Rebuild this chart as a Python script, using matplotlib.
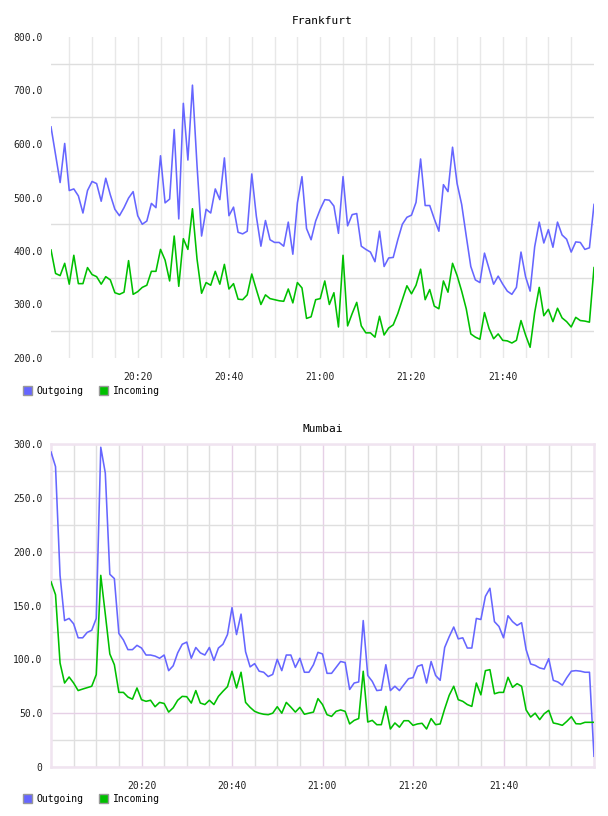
import numpy as np
import matplotlib
matplotlib.use('Agg')
import matplotlib.pyplot as plt
from matplotlib.patches import Patch
from matplotlib.ticker import FixedLocator, FuncFormatter

plt.rcParams['font.family'] = ['DejaVu Sans Mono']

# minutes after 20:00
fra_min = np.arange(1, 121)
mum_min = np.arange(0, 121)

fra_out = [632, 580, 528, 601, 513, 516, 503, 471, 513, 530,
           526, 493, 536, 505, 478, 466, 481, 499, 511, 466,
           450, 456, 489, 481, 578, 490, 497, 627, 460, 676,
           570, 710, 560, 428, 478, 471, 516, 496, 574, 466,
           482, 435, 432, 437, 544, 465, 409, 457, 421, 416,
           416, 409, 454, 394, 490, 539, 442, 421, 456, 478,
           496, 495, 484, 433, 539, 447, 468, 470, 409, 403,
           398, 380, 437, 371, 387, 388, 421, 450, 463, 467,
           491, 572, 485, 485, 460, 437, 524, 511, 594, 526,
           487, 428, 371, 346, 341, 396, 367, 338, 353, 338,
           325, 319, 332, 398, 352, 325, 408, 454, 415, 440,
           407, 454, 430, 422, 398, 417, 416, 403, 406, 487]
fra_in = [402, 358, 354, 377, 338, 392, 339, 339, 369, 356,
          352, 338, 352, 346, 322, 319, 323, 382, 319, 324,
          332, 336, 362, 362, 403, 383, 344, 428, 334, 423,
          403, 479, 385, 321, 341, 336, 362, 338, 375, 329,
          339, 310, 309, 318, 357, 328, 300, 318, 311, 309,
          307, 306, 329, 303, 341, 331, 274, 277, 309, 311,
          344, 300, 322, 258, 392, 260, 283, 304, 260, 247,
          247, 239, 278, 243, 256, 262, 283, 309, 335, 320,
          336, 366, 309, 328, 297, 292, 344, 323, 377, 354,
          325, 292, 245, 239, 235, 285, 255, 236, 245, 233,
          232, 228, 233, 270, 243, 220, 285, 332, 279, 291,
          268, 293, 275, 268, 258, 276, 270, 269, 267, 369]

mum_out = [292.6, 279, 178, 136, 138, 133, 120, 120, 125, 127,
           138, 297, 273, 179, 175, 124, 118, 109, 109, 113,
           110.5, 104, 104, 103, 101, 104, 89.5, 94, 106, 114,
           116, 101, 111, 106, 104, 111, 99, 110.5, 114, 123,
           148, 123, 142, 107, 93, 96, 89, 88, 84, 86,
           100, 89.5, 104, 104, 92.5, 101, 88, 88, 95, 106.5,
           105, 87, 87, 92.5, 98, 97, 72, 78, 79, 136,
           85, 79.5, 71, 71.5, 95, 71, 75, 71, 76.5, 82,
           83, 93.5, 95, 78, 98, 85, 80.5, 111, 121, 130,
           119, 120, 110.5, 110.5, 138, 137, 158.5, 166, 135, 130.5,
           120, 140.5, 135, 131.5, 134, 109, 95.7, 94.4, 92, 91,
           100.6, 80.5, 79, 76, 83, 89, 89.5, 89, 88, 88, 10]
mum_in = [172, 160, 96.6, 78, 83.6, 78, 71, 72.4, 73.7, 75,
          85.8, 178, 142, 105, 95, 69.3, 69.3, 65, 63, 73.4,
          62.5, 61, 62, 56, 60, 59, 51, 55, 62, 65.6,
          65.3, 59.4, 71, 59.4, 58, 62, 58, 65.6, 70.3, 74.6,
          88.9, 73.4, 88, 60, 55.4, 51.7, 50, 49, 48.6, 50,
          56, 50, 60, 55.7, 51, 55.4, 49, 50, 51, 63.5,
          58, 48.6, 47, 51.7, 53, 51.7, 40, 43.3, 45, 88.9,
          41.8, 43.3, 39.3, 39.3, 56.3, 35.3, 40.9, 37, 43, 43,
          38.7, 40, 40.6, 35.3, 45, 39.3, 40, 54, 66.6, 75,
          62.5, 61, 58, 56.3, 78, 67, 89.5, 90.4, 68, 69.3,
          69.3, 83.3, 74, 77.4, 75, 53, 46.4, 50, 44, 49.5,
          52.6, 40.9, 40, 38.7, 42.4, 46.7, 40.2, 40, 41.5, 41.5, 41.5]

BLUE = '#6666ff'
GREEN = '#00c000'
W, H = 608, 816


def hhmm(v, pos=None):
    v = int(round(v))
    return '%d:%02d' % (20 + v // 60, v % 60)


def add_legend(ax, top_px):
    handles = [Patch(facecolor=BLUE, edgecolor='#999999', lw=1, label='Outgoing'),
               Patch(facecolor=GREEN, edgecolor='#999999', lw=1, label='Incoming')]
    ax.legend(handles=handles, loc='upper left', ncol=2, frameon=False,
              bbox_to_anchor=(23 / W, 1 - top_px / H), bbox_transform=fig.transFigure,
              borderaxespad=0, borderpad=0, handlelength=0.95, handleheight=1.0,
              handletextpad=0.45, columnspacing=1.6, fontsize=7)


fig = plt.figure(figsize=(W / 100, H / 100), dpi=100)
fra = fig.add_axes([51 / W, 1 - 358 / H, 543 / W, 321 / H])
mum = fig.add_axes([51 / W, 1 - 767 / H, 543 / W, 323 / H])

# ---- Frankfurt
fra.plot(fra_min, fra_out, color=BLUE, lw=1.15, zorder=3)
fra.plot(fra_min, fra_in, color=GREEN, lw=1.15, zorder=3)
fra.set_xlim(1, 120)
fra.set_ylim(200, 800)
fra.xaxis.set_major_locator(FixedLocator([20, 40, 60, 80, 100]))
fra.xaxis.set_minor_locator(FixedLocator(range(5, 120, 5)))
fra.xaxis.set_major_formatter(FuncFormatter(hhmm))
fra.yaxis.set_major_locator(FixedLocator(range(200, 801, 100)))
fra.yaxis.set_minor_locator(FixedLocator(range(250, 800, 100)))
fra.yaxis.set_major_formatter(FuncFormatter(lambda v, p: '%.1f' % v))
fra.grid(False)
fra.grid(axis='x', which='both', color='#e8e8e8', lw=1)
fra.grid(axis='y', which='minor', color='#dedede', lw=1)
for s in fra.spines.values():
    s.set_visible(False)
fra.set_title('Frankfurt', fontsize=8, pad=9)
add_legend(fra, 386)

# ---- Mumbai
mum.plot(mum_min, mum_out, color=BLUE, lw=1.15, zorder=3)
mum.plot(mum_min, mum_in, color=GREEN, lw=1.15, zorder=3)
mum.set_xlim(0, 120)
mum.set_ylim(0, 300)
mum.xaxis.set_major_locator(FixedLocator([20, 40, 60, 80, 100]))
mum.xaxis.set_minor_locator(FixedLocator([m for m in range(5, 120, 5) if m % 20]))
mum.xaxis.set_major_formatter(FuncFormatter(hhmm))
mum.yaxis.set_major_locator(FixedLocator(range(0, 301, 50)))
mum.yaxis.set_minor_locator(FixedLocator(range(25, 300, 50)))
mum.yaxis.set_major_formatter(FuncFormatter(lambda v, p: '0' if v == 0 else '%.1f' % v))
mum.grid(which='major', color='#e6d0e6', lw=1)
mum.grid(which='minor', color='#dfdfdf', lw=1)
for s in mum.spines.values():
    s.set_color('#f0e4f0')
    s.set_linewidth(1.8)
mum.set_title('Mumbai', fontsize=8, pad=9)
add_legend(mum, 794)

for ax in (fra, mum):
    ax.set_axisbelow(True)
    ax.tick_params(which='both', length=0, labelsize=7, colors='#222222')
    ax.tick_params(axis='y', pad=6)
    ax.tick_params(axis='x', pad=10)

fig.savefig('out.png', dpi=100)
